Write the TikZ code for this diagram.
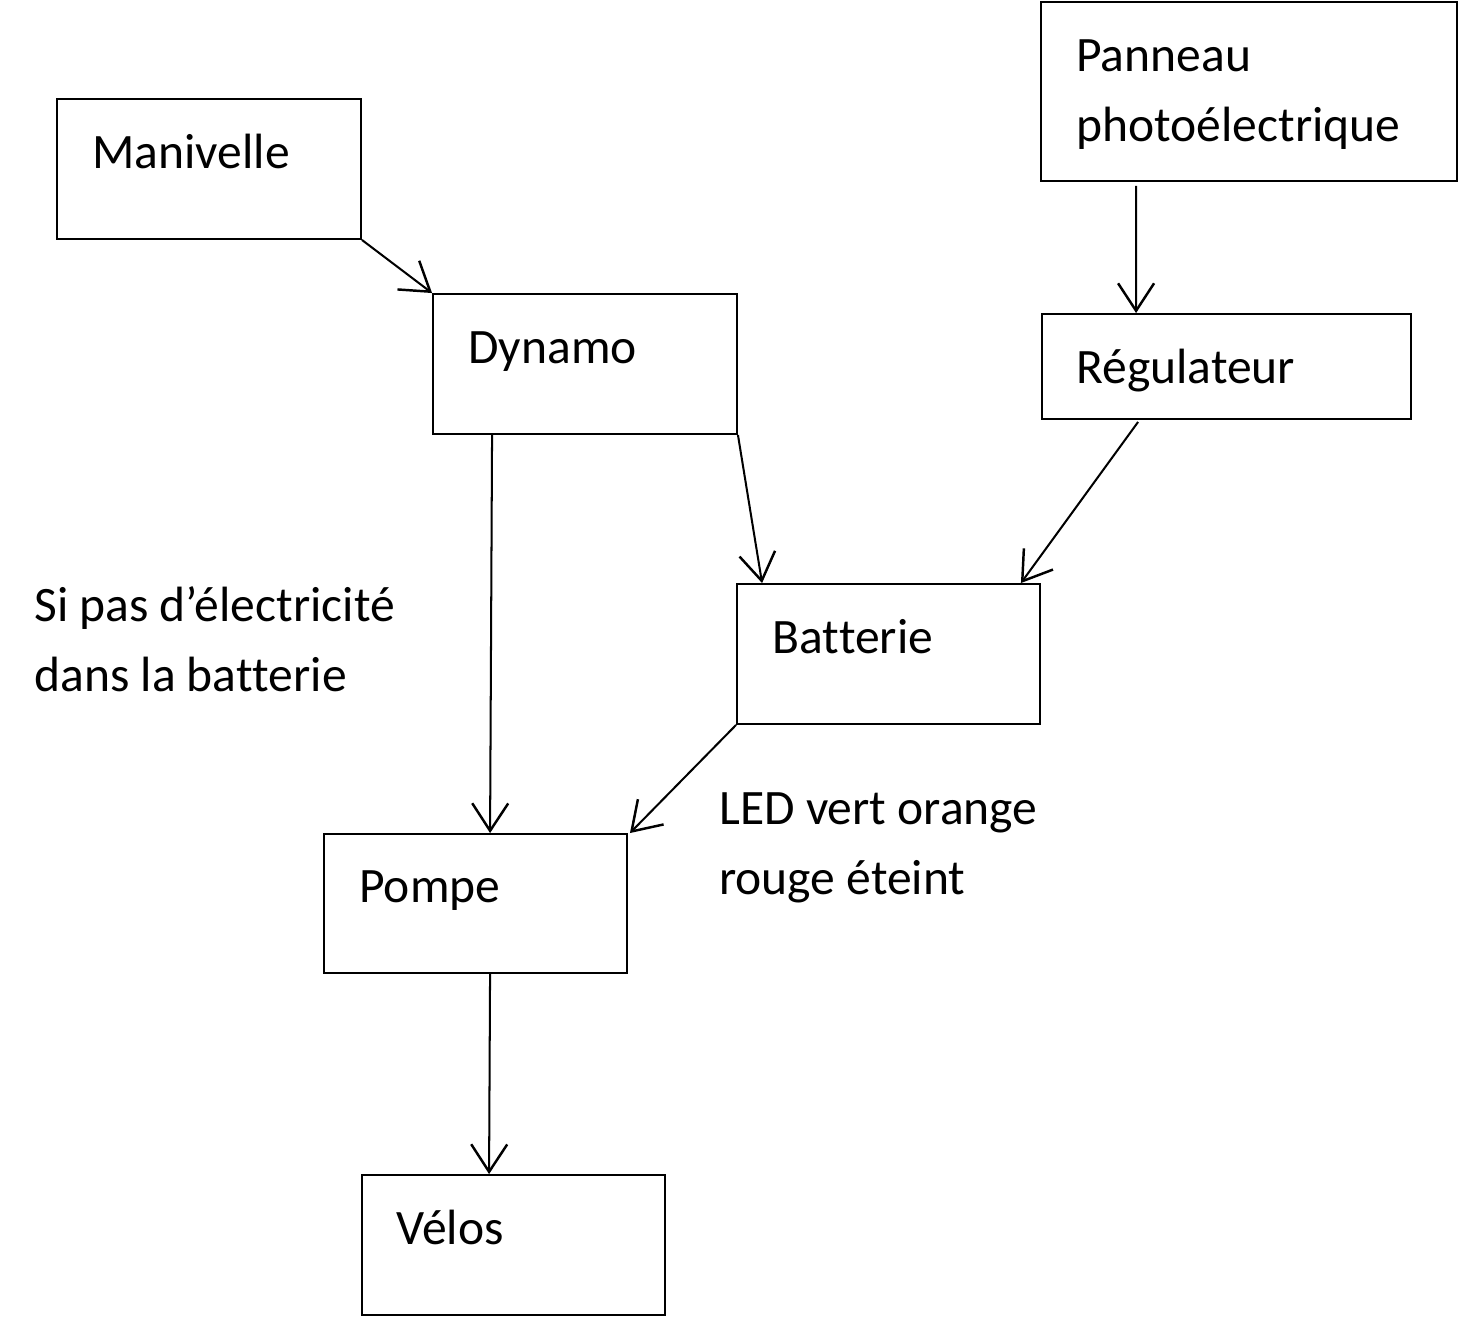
\documentclass[tikz,border=0pt]{standalone}
\usepackage{fontspec}
\setmainfont{Carlito}[Ligatures=NoCommon,Contextuals=NoAlternate,RawFeature={-liga,-clig,-calt,-dlig}]
\usetikzlibrary{arrows.meta,calc}
\begin{document}
\begin{tikzpicture}[x=0.02cm,y=-0.02cm,
  box/.style={draw,line width=1.1pt,inner sep=0pt,minimum width=#1},
  txt/.style={anchor=base west,inner sep=0pt,font=\fontsize{28.2}{34}\selectfont},
  conn/.style={draw,line width=1.15pt,-{Straight Barb[length=0.55cm,width=0.72cm,line width=1.4pt]}}]
\useasboundingbox (0,0) rectangle (1459,1317);
% boxes
\node[box=6.08cm,minimum height=2.8cm] (man) at (209,169) {};
\node[box=6.08cm,minimum height=2.8cm] (dyn) at (585,364) {};
\node[box=8.32cm,minimum height=3.58cm] (pan) at (1249,91.5) {};
\node[box=7.38cm,minimum height=2.1cm] (reg) at (1226.5,366.5) {};
\node[box=6.06cm,minimum height=2.8cm] (bat) at (888.5,654) {};
\node[box=6.06cm,minimum height=2.78cm] (pom) at (475.5,903.5) {};
\node[box=6.06cm,minimum height=2.8cm] (vel) at (513.5,1245) {};
% texts
\node[txt] (tman) at (92,169) {Manivelle};
\node[txt] (tdyn) at (468,364) {Dynamo};
\node[txt] (tpan1) at (1076,72) {Panneau};
\node[txt] (tpan2) at (1076,142) {photoélectrique};
\node[txt] (treg) at (1076,384) {Régulateur};
\node[txt] (tbat) at (772,653) {Bat\kern0ptterie};
\node[txt] (tpom) at (359,902) {Pompe};
\node[txt] (tvel) at (396,1244) {Vélos};
\node[txt] (lsi1) at (34,621) {Si pas d’électricité};
\node[txt] (lsi2) at (34,691) {dans la bat\kern0ptterie};
\node[txt] (led1) at (719,824) {LED vert orange};
\node[txt] (led2) at (719,894) {rouge éteint};
% connectors
\draw[conn] (man.south east) -- (dyn.north west);
\draw[conn] ($(pan.south west)+(96,4)$) -- ($(reg.north west)+(95,0)$);
\draw[conn] ($(dyn.south west)+(60,0)$) -- ($(pom.north west)+(167,0)$);
\draw[conn] (dyn.south east) -- ($(bat.north west)+(26,0)$);
\draw[conn] ($(reg.south west)+(97,2)$) -- ($(bat.north east)+(-20,0)$);
\draw[conn] (bat.south west) -- ($(pom.north east)+(2,0)$);
\draw[conn] ($(pom.south west)+(167,0)$) -- ($(vel.north west)+(128,0)$);
\end{tikzpicture}
\end{document}
